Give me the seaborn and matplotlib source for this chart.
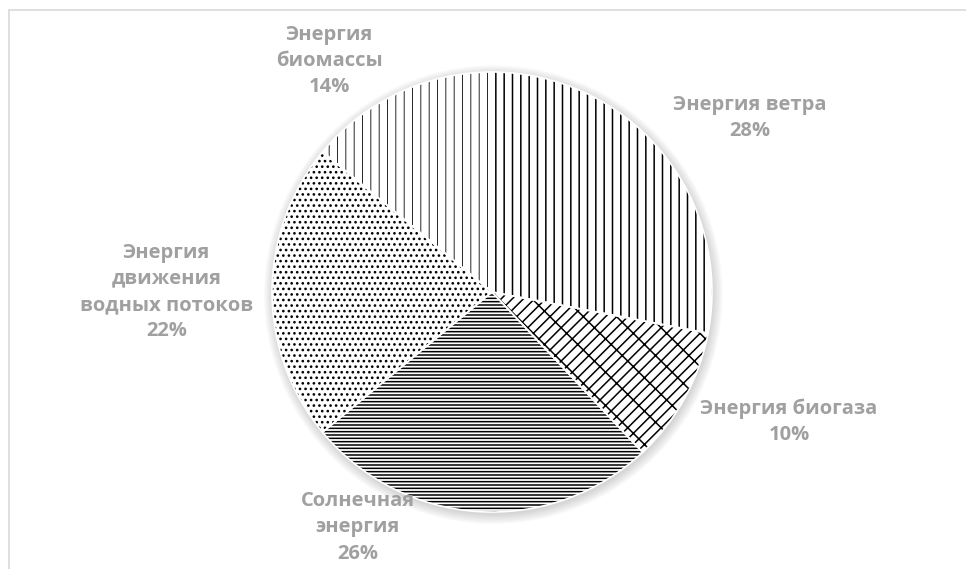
import numpy as np
import pandas as pd
import matplotlib.pyplot as plt
import matplotlib.patches as mpatches
import seaborn as sns

# данные
sources = ["Энергия ветра", "Энергия биогаза", "Солнечная\nэнергия",
           "Энергия\nдвижения\nводных потоков", "Энергия\nбиомассы"]
shares = [28, 10, 26, 22, 14]
hatches = ["||", "///\\", "-----", "...", "||"]

# позиции подписей (в радиусах пирога)
label_pos = [(1.17, 0.79), (1.35, -0.59), (-0.61, -1.07), (-1.48, 0.0), (-0.74, 1.05)]

sns.set_theme(style="white")
plt.rcParams["font.family"] = ["Open Sans", "DejaVu Sans"]
plt.rcParams["hatch.linewidth"] = 1.1

df = pd.DataFrame({"source": sources, "share": shares})

fig = plt.figure(figsize=(9.66, 5.69), dpi=100)
ax = fig.add_axes([0, 0, 1, 1])
r = 220
cx, cy = 492, 569 - 292
ax.axis("off")

# мягкая тень
for k in range(8):
    ax.add_patch(mpatches.Circle((0.006, -0.012), 1.0 + 0.006 * k, color="gray",
                                 alpha=0.045, lw=0, zorder=0))

wedges, _ = ax.pie(df.share, startangle=90, counterclock=False, radius=1,
                   colors=["white"] * len(df),
                   wedgeprops=dict(edgecolor="black", linewidth=0))
for w, h in zip(wedges, hatches):
    w.set_hatch(h)
    w.set_zorder(2)
# штрихи биомассы тоньше
if hasattr(wedges[4], "set_hatch_linewidth"):
    wedges[4].set_hatch_linewidth(0.6)

# белые границы между секторами
wedges2, _ = ax.pie(df.share, startangle=90, counterclock=False, radius=1,
                    colors=["none"] * len(df),
                    wedgeprops=dict(edgecolor="white", linewidth=1.2))
for w in wedges2:
    w.set_zorder(3)

ax.set_xlim(-cx / r, (966 - cx) / r)
ax.set_ylim(-cy / r, (569 - cy) / r)
ax.set_aspect("auto")

for (x, y), name, val in zip(label_pos, df.source, df.share):
    ax.text(x, y, f"{name}\n{val}%", ha="center", va="center", fontsize=14.5,
            fontweight="bold", color="#A0A0A0", linespacing=1.42, zorder=5)

# рамка области диаграммы
fig.add_artist(plt.Line2D([9 / 966, 1], [1 - 10 / 569, 1 - 10 / 569],
                          color="#D9D9D9", lw=1.2))
fig.add_artist(plt.Line2D([9 / 966, 9 / 966], [0, 1 - 10 / 569],
                          color="#D9D9D9", lw=1.2))

fig.savefig("out.png", dpi=100)
